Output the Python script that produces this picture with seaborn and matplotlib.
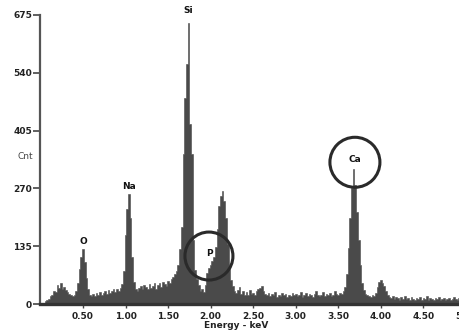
import numpy as np
import pandas as pd
import matplotlib
matplotlib.use("Agg")
import matplotlib.pyplot as plt
from matplotlib.patches import Ellipse
import seaborn as sns

# Channel energies (keV), 0.02 keV channels starting at 0.06
start_kev = 0.06
chan_kev = 0.02
counts = [
    6, 10,
    12, 18, 22, 30, 28,
    44, 38, 48, 36, 40,
    33, 27, 24, 20, 18,
    22, 30, 48, 82, 110,
    128, 98, 60, 34, 22,
    19, 24, 18, 26, 22,
    28, 20, 25, 30, 24,
    32, 26, 30, 36, 28,
    34, 30, 38, 46, 78,
    160, 222, 258, 200, 110,
    52, 34, 30, 38, 42,
    36, 44, 40, 34, 46,
    38, 42, 50, 36, 44,
    48, 40, 52, 46, 42,
    54, 48, 58, 62, 70,
    78, 92, 128, 180, 350,
    480, 560, 656, 420, 350,
    150, 80, 58, 44, 30,
    36, 28, 44, 72, 84,
    92, 100, 110, 132, 175,
    230, 252, 265, 240, 200,
    140, 88, 56, 42, 30,
    26, 32, 40, 24, 30,
    22, 28, 20, 32, 24,
    26, 20, 30, 34, 38,
    42, 30, 24, 20, 26,
    18, 24, 20, 28, 16,
    22, 18, 26, 20, 24,
    16, 22, 18, 26, 20,
    24, 18, 20, 28, 16,
    22, 26, 18, 24, 20,
    16, 24, 30, 20, 18,
    22, 28, 18, 24, 20,
    26, 18, 22, 30, 24,
    20, 26, 24, 30, 40,
    70, 130, 200, 272, 316,
    278, 215, 150, 90, 50,
    32, 24, 20, 18, 16,
    20, 18, 26, 40, 52,
    56, 50, 42, 30, 20,
    16, 14, 18, 12, 16,
    14, 10, 16, 12, 18,
    12, 14, 10, 16, 12,
    10, 14, 12, 16, 10,
    14, 12, 18, 10, 14,
    12, 10, 14, 12, 16,
    10, 12, 14, 10, 12,
    14, 10, 12, 16, 12,
    10, 14, 12, 10, 12,
]
energy = np.round(start_kev + chan_kev * np.arange(len(counts)), 2)

x_ticks = [0.5, 1.0, 1.5, 2.0, 2.5, 3.0, 3.5, 4.0, 4.5, 5.0]
x_tick_labels = ["0.50", "1.00", "1.50", "2.00", "2.50", "3.00", "3.50", "4.00", "4.50", "5.00"]
y_ticks = [0, 135, 270, 405, 540, 675]
y_tick_labels = ["0", "135", "270", "405", "540", "675"]

peak_names = ["O", "Na", "Si", "P", "Ca"]
peak_kev = [0.51, 1.04, 1.74, 1.98, 3.69]
peak_label_cnt = [147, 275, 685, 119, 338]

circle_kev = [1.98, 3.695]
circle_cnt = [112, 331]

df = pd.DataFrame({"energy": energy, "counts": np.array(counts, dtype=float)})

sns.set_style("white")
plt.rcParams["font.family"] = ["DejaVu Sans"]

W, H = 459, 331
fig = plt.figure(figsize=(W / 100, H / 100), dpi=100)
fig.patch.set_facecolor("white")
ax = fig.add_axes([40.4 / W, 27 / H, (466 - 40.4) / W, (304 - 15) / H])

lo = float(energy[0] - chan_kev / 2)
hi = float(energy[-1] + chan_kev / 2)
sns.histplot(data=df, x="energy", weights="counts", binwidth=chan_kev, binrange=(lo, hi),
             element="step", fill=True, color="#4a4a4a", alpha=1.0, linewidth=0.4, ax=ax)

ax.set_xlim(0, 5.0)
ax.set_ylim(0, 675)
ax.set_xticks(x_ticks)
ax.set_xticklabels(x_tick_labels, fontsize=6.5, fontweight="bold", color="#222222")
ax.set_yticks(y_ticks)
ax.set_yticklabels(y_tick_labels, fontsize=6.5, fontweight="bold", color="#222222")
ax.tick_params(axis="y", direction="out", length=5, width=1.2, color="#444444", pad=1, left=True)
ax.tick_params(axis="x", direction="out", length=3, width=1.0, color="#444444", pad=3, bottom=True)
ax.set_xlabel("")
ax.set_ylabel("")
for s in ["top", "right"]:
    ax.spines[s].set_visible(False)
ax.spines["left"].set_color("#555555")
ax.spines["left"].set_linewidth(1.6)
ax.spines["bottom"].set_color("#333333")
ax.spines["bottom"].set_linewidth(2.4)

for name, xk, yc in zip(peak_names, peak_kev, peak_label_cnt):
    ax.text(xk, yc, name, ha="center", va="center", fontsize=6.5,
            fontweight="bold", color="#111111", clip_on=False)

px_per_kev = (466 - 40.4) / 5.0
px_per_cnt = (304 - 15) / 675
for xk, yc, r in zip(circle_kev, circle_cnt, [24, 25]):
    ax.add_patch(Ellipse((xk, yc), width=2 * r / px_per_kev, height=2 * r / px_per_cnt,
                         fill=False, edgecolor="#2a2a2a", linewidth=2.2, clip_on=False))

fig.text(25 / W, 1 - 157 / H, "Cnt", ha="center", va="center", fontsize=6.5, color="#444444")
fig.text(236 / W, 1 - 326 / H, "Energy - keV", ha="center", va="center", fontsize=6.5,
         fontweight="bold", color="#222222")

fig.savefig("out.png", dpi=100, facecolor="white")
